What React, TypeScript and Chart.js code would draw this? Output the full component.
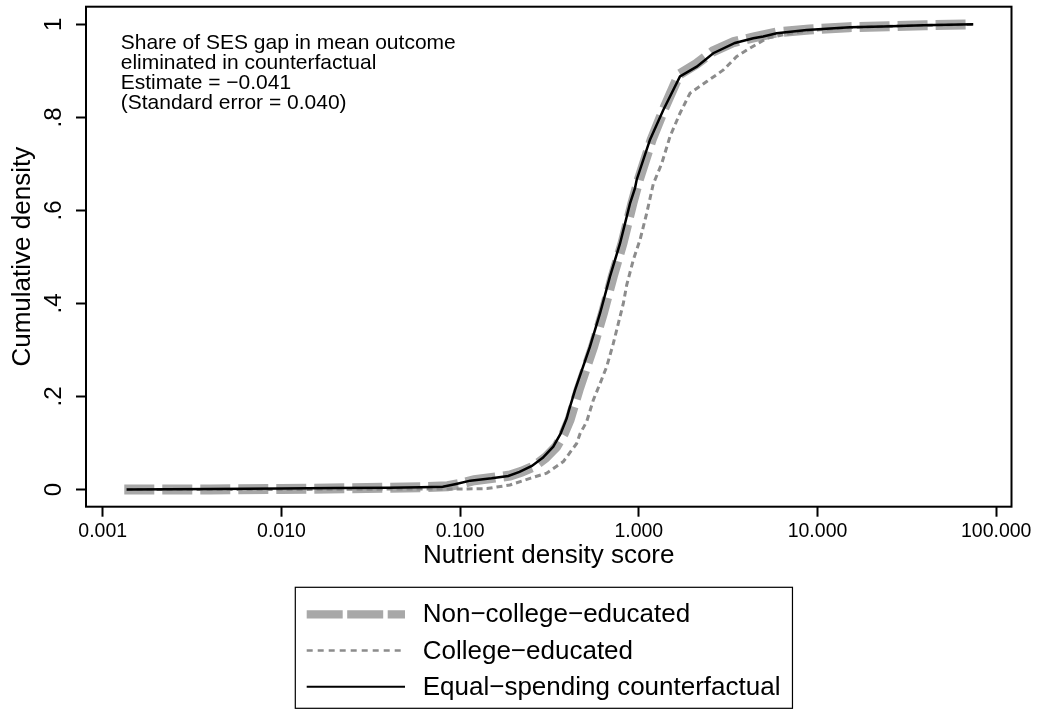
import React, { useEffect, useRef } from "react";
import { Chart, registerables } from "chart.js";

Chart.register(...registerables);

const FONT = '"Liberation Sans", Arial, Helvetica, sans-serif';

// Non-college-educated (thick grey dashed)
const nonCollegeX = [0.00132, 0.004, 0.01, 0.03, 0.06, 0.085, 0.1, 0.12, 0.16, 0.19, 0.22, 0.26, 0.30, 0.345, 0.38, 0.41, 0.46, 0.555, 0.63, 0.715, 0.81, 0.92, 1.0, 1.18, 1.39, 1.68, 2.1, 2.6, 3.4, 4.4, 6.0, 9.0, 15, 25, 40, 74];
const nonCollegeY = [0.0, 0.0, 0.001, 0.003, 0.005, 0.007, 0.012, 0.02, 0.026, 0.03, 0.038, 0.05, 0.068, 0.092, 0.12, 0.15, 0.214, 0.307, 0.379, 0.458, 0.529, 0.615, 0.666, 0.752, 0.82, 0.892, 0.915, 0.942, 0.962, 0.972, 0.983, 0.989, 0.994, 0.996, 0.998, 1.0];

// College-educated (grey short dashes)
const collegeX = [0.00136, 0.01, 0.05, 0.1, 0.141, 0.19, 0.246, 0.305, 0.378, 0.449, 0.469, 0.511, 0.556, 0.607, 0.661, 0.72, 0.768, 0.819, 0.856, 0.932, 1.016, 1.107, 1.205, 1.344, 1.495, 1.70, 1.934, 2.399, 2.972, 3.53, 4.19, 5.2, 6.5, 9.0, 15, 25, 40, 74];
const collegeY = [0.0, 0.0, 0.001, 0.001, 0.002, 0.0097, 0.024, 0.035, 0.06, 0.099, 0.12, 0.146, 0.192, 0.228, 0.264, 0.314, 0.357, 0.4, 0.44, 0.494, 0.537, 0.594, 0.657, 0.701, 0.759, 0.809, 0.852, 0.877, 0.902, 0.931, 0.949, 0.97, 0.978, 0.987, 0.993, 0.996, 0.998, 1.0];

// Equal-spending counterfactual (black solid)
const equalX = [0.00136, 0.004, 0.01, 0.02, 0.04, 0.06, 0.08, 0.095, 0.114, 0.15, 0.186, 0.215, 0.252, 0.29, 0.332, 0.365, 0.395, 0.407, 0.44, 0.533, 0.607, 0.69, 0.785, 0.893, 0.952, 0.973, 1.155, 1.371, 1.70, 2.11, 2.61, 3.45, 4.37, 4.97, 5.91, 8.7, 15.2, 23.3, 39.1, 74.4];
const equalY = [0.0, 0.001, 0.002, 0.003, 0.004, 0.005, 0.006, 0.012, 0.019, 0.024, 0.029, 0.038, 0.0505, 0.068, 0.092, 0.12, 0.153, 0.171, 0.214, 0.307, 0.379, 0.458, 0.529, 0.615, 0.648, 0.666, 0.752, 0.816, 0.888, 0.909, 0.938, 0.96, 0.97, 0.974, 0.981, 0.988, 0.994, 0.9955, 0.998, 1.0];

const xTickValues = [0.001, 0.01, 0.1, 1, 10, 100];
const yTickValues = [0, 0.2, 0.4, 0.6, 0.8, 1];
const yTickLabels = ["0", ".2", ".4", ".6", ".8", "1"];

const seriesLabels = ["Non\u2212college\u2212educated", "College\u2212educated", "Equal\u2212spending counterfactual"];
const noteLines = [
  "Share of SES gap in mean outcome",
  "eliminated in counterfactual",
  "Estimate = \u22120.041",
  "(Standard error = 0.040)",
];

const xTitle = "Nutrient density score";
const yTitle = "Cumulative density";

const X_MIN = 0.000806;
const X_MAX = 121.8;
const Y_MIN = -0.037;
const Y_MAX = 1.038;

const GREY_THICK = "#a8a8a8";
const GREY_DOT = "#8c8c8c";

const toPoints = (xs: number[], ys: number[]) => xs.map((x, i) => ({ x, y: ys[i] }));

const legendStyles = [
  { color: GREY_THICK, width: 8.3, dash: [36, 4.5] },
  { color: GREY_DOT, width: 2.5, dash: [6, 5] },
  { color: "#000000", width: 2, dash: [] as number[] },
];

const decorPlugin = {
  id: "decor",
  afterDraw(chart: any) {
    const { ctx, chartArea: a } = chart;
    ctx.save();
    // full frame
    ctx.setLineDash([]);
    ctx.strokeStyle = "#000";
    ctx.lineWidth = 2;
    ctx.strokeRect(a.left, a.top, a.right - a.left, a.bottom - a.top);

    // note text
    ctx.fillStyle = "#000";
    ctx.font = `21px ${FONT}`;
    ctx.textAlign = "left";
    ctx.textBaseline = "alphabetic";
    noteLines.forEach((t, i) => ctx.fillText(t, a.left + 34.7, a.top + 42.6 + i * 20));

    // legend
    const lx = 295.3;
    const ly = 587.3;
    const sampleX0 = 306.7;
    const sampleX1 = 405;
    const textX = 422.7;
    ctx.font = `26px ${FONT}`;
    const maxW = Math.max(...seriesLabels.map((t) => ctx.measureText(t).width));
    const boxW = textX - lx + maxW + 12;
    const boxH = 121;
    ctx.lineWidth = 1.2;
    ctx.strokeStyle = "#000";
    ctx.strokeRect(lx, ly, boxW, boxH);
    legendStyles.forEach((st, i) => {
      const cy = 614.3 + i * 36.2;
      ctx.beginPath();
      ctx.setLineDash(st.dash);
      ctx.lineWidth = st.width;
      ctx.strokeStyle = st.color;
      ctx.lineCap = "butt";
      ctx.moveTo(sampleX0, cy);
      ctx.lineTo(sampleX1, cy);
      ctx.stroke();
      ctx.setLineDash([]);
      ctx.fillStyle = "#000";
      ctx.fillText(seriesLabels[i], textX, cy + 8);
    });
    ctx.restore();
  },
};

export default function App() {
  const canvasRef = useRef<HTMLCanvasElement | null>(null);

  useEffect(() => {
    const canvas = canvasRef.current;
    if (!canvas) return;
    const chart = new Chart(canvas, {
      type: "line",
      data: {
        datasets: [
          {
            label: seriesLabels[0],
            data: toPoints(nonCollegeX, nonCollegeY),
            borderColor: GREY_THICK,
            borderWidth: 10,
            borderDash: [30, 8],
            borderCapStyle: "butt",
            pointRadius: 0,
            tension: 0,
            fill: false,
            order: 2,
          },
          {
            label: seriesLabels[1],
            data: toPoints(collegeX, collegeY),
            borderColor: GREY_DOT,
            borderWidth: 3,
            borderDash: [6, 4],
            borderCapStyle: "butt",
            pointRadius: 0,
            tension: 0,
            fill: false,
            order: 1,
          },
          {
            label: seriesLabels[2],
            data: toPoints(equalX, equalY),
            borderColor: "#000000",
            borderWidth: 2.5,
            pointRadius: 0,
            tension: 0,
            fill: false,
            order: 0,
          },
        ],
      },
      options: {
        responsive: false,
        animation: false,
        devicePixelRatio: 1,
        layout: { padding: { left: 7.2, right: 30.5, top: 6.7, bottom: 140.5 } },
        plugins: {
          legend: { display: false },
          tooltip: { enabled: false },
        },
        scales: {
          x: {
            type: "logarithmic",
            min: X_MIN,
            max: X_MAX,
            afterBuildTicks: (scale: any) => {
              scale.ticks = xTickValues.map((v) => ({ value: v }));
            },
            afterFit: (scale: any) => {
              scale.height = 64.8;
              scale.paddingLeft = 0;
              scale.paddingRight = 0;
              scale.paddingTop = 0;
              scale.paddingBottom = 0;
            },
            ticks: {
              autoSkip: false,
              maxRotation: 0,
              minRotation: 0,
              padding: 3.3,
              color: "#000",
              font: { family: FONT, size: 19.5 },
              callback: (v: any) => Number(v).toFixed(3),
            },
            grid: {
              display: true,
              drawOnChartArea: false,
              drawTicks: true,
              tickLength: 10,
              tickWidth: 2,
              tickColor: "#000",
            },
            border: { display: false },
            title: {
              display: true,
              text: xTitle,
              color: "#000",
              font: { family: FONT, size: 26 },
              padding: { top: 0, bottom: 0 },
            },
          },
          y: {
            type: "linear",
            min: Y_MIN,
            max: Y_MAX,
            afterBuildTicks: (scale: any) => {
              scale.ticks = yTickValues.map((v) => ({ value: v }));
            },
            afterFit: (scale: any) => {
              scale.width = 78.8;
              scale.paddingLeft = 0;
              scale.paddingRight = 0;
              scale.paddingTop = 0;
              scale.paddingBottom = 0;
            },
            ticks: {
              autoSkip: false,
              minRotation: 90,
              maxRotation: 90,
              crossAlign: "center",
              padding: 11.4,
              color: "#000",
              font: { family: FONT, size: 24 },
              callback: (v: any) => {
                const idx = yTickValues.findIndex((t) => Math.abs(t - Number(v)) < 1e-9);
                return idx >= 0 ? yTickLabels[idx] : "";
              },
            },
            grid: {
              display: true,
              drawOnChartArea: false,
              drawTicks: true,
              tickLength: 10,
              tickWidth: 2,
              tickColor: "#000",
            },
            border: { display: false },
            title: {
              display: true,
              text: yTitle,
              color: "#000",
              font: { family: FONT, size: 26 },
              padding: { top: 0, bottom: 0 },
            },
          },
        },
      },
      plugins: [decorPlugin],
    } as any);
    return () => chart.destroy();
  }, []);

  return (
    <div style={{ position: "fixed", left: 0, top: 0, width: 1042, height: 712, background: "#fff" }}>
      <canvas ref={canvasRef} width={1042} height={712} style={{ width: 1042, height: 712, display: "block" }} />
    </div>
  );
}
